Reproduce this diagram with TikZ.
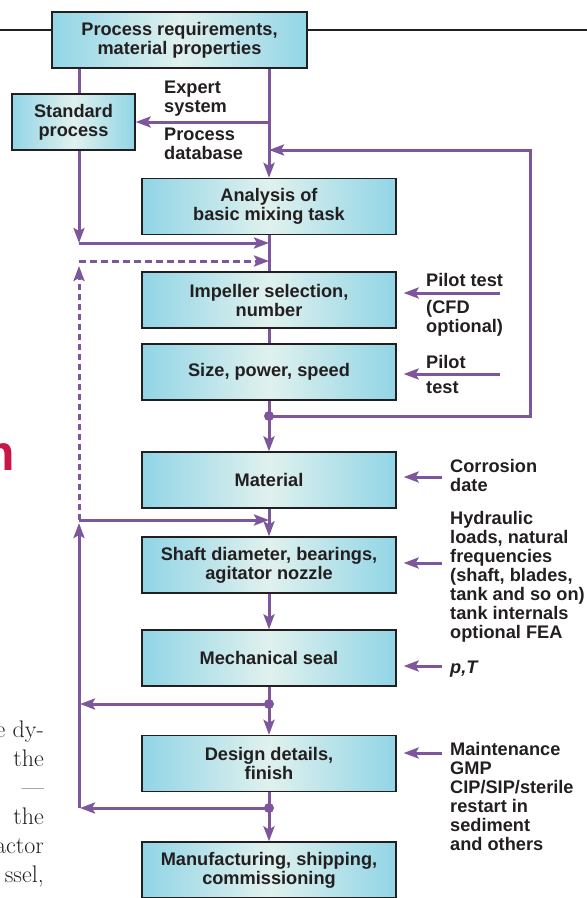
\documentclass[tikz,border=0pt]{standalone}
\usepackage{fontspec}
\usepackage{tikz}
\usetikzlibrary{arrows.meta, positioning}

\newfontfamily\chartfont{Liberation Sans}
\definecolor{boxcyan}{RGB}{145,213,230}
\definecolor{boxlight}{RGB}{224,241,238}
\definecolor{flowpurple}{RGB}{126,86,156}
\definecolor{headred}{RGB}{200,22,72}
\definecolor{inkgray}{RGB}{35,31,32}

\begin{document}
\begin{tikzpicture}[
    x=1pt, y=-1pt,
    stagebox/.style={draw=inkgray, line width=1.3pt, left color=boxcyan, right color=boxcyan, middle color=boxlight,
        minimum height=56pt, inner sep=0pt, align=center, text=inkgray, font=\chartfont\bfseries\fontsize{18.2}{19}\selectfont},
    note/.style={inner sep=0pt, align=left, text=inkgray, font=\chartfont\bfseries\fontsize{18.2}{19}\selectfont},
    bodytext/.style={inner sep=0pt, text=inkgray, font=\fontsize{24}{29}\selectfont},
    flowline/.style={draw=flowpurple, line width=3pt},
    flowarrow/.style={flowline, -{Stealth[length=15pt, width=11pt, inset=3pt]}},
    inarrow/.style={flowarrow, shorten >=7pt},
    pagerule/.style={draw=inkgray, line width=1.3pt}
]
\useasboundingbox (0,0) rectangle (587,898);

% Boxes
\node[stagebox, minimum width=255pt] (req) at (179.5,40) {Process requirements,\\material properties};
\node[stagebox, minimum width=123pt] (std) at (73.5,122) {Standard\\process};
\node[stagebox, minimum width=254pt] (analysis) at (269,206.5) {Analysis of\\basic mixing task};
\node[stagebox, minimum width=254pt] (impeller) at (269,300) {Impeller selection,\\number};
\node[stagebox, minimum width=254pt] (size) at (269,372) {Size, power, speed};
\node[stagebox, minimum width=254pt] (material) at (269,480) {Material};
\node[stagebox, minimum width=254pt] (shaft) at (269,565) {Shaft diameter, bearings,\\agitator nozzle};
\node[stagebox, minimum width=254pt] (seal) at (269,658) {Mechanical seal};
\node[stagebox, minimum width=254pt] (design) at (269,763.5) {Design details,\\finish};
\node[stagebox, minimum width=254pt] (manuf) at (269,870) {Manufacturing, shipping,\\commissioning};

% Junctions
\coordinate (jstd) at (79,243);
\coordinate (jdash) at (79,261);
\coordinate (jmat) at (79,520);
\coordinate (jbot) at (79,808);
\coordinate (dsize) at (269,416);
\coordinate (dseal) at (269,704);
\coordinate (ddesign) at (269,808);
\coordinate (fbcorner) at (530,150);

% Main flow
\draw[flowline] (req.south -| jstd) -- (std.north -| jstd);
\draw[flowarrow] (std.south -| jstd) -- (jstd);
\draw[flowarrow] (jstd) -- (jstd -| analysis.south);
\draw[flowarrow] (analysis.north |- std.east) -- (std.east);
\draw[flowarrow] (req.south -| analysis.north) -- (analysis.north);
\draw[flowline] (analysis.south) -- (impeller.north);
\draw[flowline] (impeller.south) -- (size.north);
\draw[flowline] (size.south) -- (dsize);
\draw[flowarrow] (dsize) -- (material.north);
\draw[flowarrow] (dsize) -| (fbcorner) -- (analysis.north |- fbcorner);
\draw[flowarrow, dash pattern=on 6pt off 4pt, shorten >=5pt] (jmat) -- (jdash);
\draw[flowarrow, dash pattern=on 7pt off 4pt] (jdash) -- (jdash -| analysis.south);
\draw[flowarrow] (jmat) -- (jmat -| material.south);
\draw[flowarrow] (material.south) -- (shaft.north);
\draw[flowarrow] (shaft.south) -- (seal.north);
\draw[flowline] (seal.south) -- (dseal);
\draw[flowarrow] (dseal) -- (design.north);
\draw[flowarrow, shorten >=1pt] (dseal) -- (dseal -| jbot);
\draw[flowline] (design.south) -- (ddesign);
\draw[flowarrow] (ddesign) -- (manuf.north);
\draw[flowarrow, shorten >=1pt] (ddesign) -- (jbot);
\draw[flowarrow, shorten >=3pt] (jbot) -- (jmat);
\fill[flowpurple] (dsize) circle (5pt) (dseal) circle (5pt) (ddesign) circle (5pt);

% Inputs from the right
\coordinate (inimp) at (500,293);
\coordinate (insize) at (500,374);
\coordinate (inmat) at (442,477);
\coordinate (inshaft) at (442,563);
\coordinate (inseal) at (442,666);
\coordinate (indesign) at (442,753);
\draw[inarrow] (inimp) -- (impeller.east |- inimp);
\draw[inarrow] (insize) -- (size.east |- insize);
\draw[inarrow] (inmat) -- (material.east |- inmat);
\draw[inarrow] (inshaft) -- (shaft.east |- inshaft);
\draw[inarrow] (inseal) -- (seal.east |- inseal);
\draw[inarrow] (indesign) -- (design.east |- indesign);

% Labels
\node[note, anchor=south west] (expert) at (164,116) {Expert\\system};
\node[note, anchor=north west] (database) at (164,128) {Process\\database};
\node[note, anchor=base west] (pilot1) at (426,286) {Pilot test};
\node[note, anchor=north west] (cfd) at (426,300) {(CFD\\optional)};
\node[note, anchor=base west] (pilot2) at (426,368) {Pilot};
\node[note, anchor=base west] (test2) at (426,393) {test};
\node[note, anchor=north west] (corrosion) at (450,459) {Corrosion\\date};
\node[note, anchor=north west] (hydraulic) at (450,511) {Hydraulic\\loads, natural\\frequencies\\(shaft, blades,\\tank and so on)\\tank internals\\optional FEA};
\node[note, anchor=north west] (pt) at (450,661) {\itshape p,T};
\node[note, anchor=north west] (maint) at (450,742) {Maintenance\\GMP\\CIP/SIP/sterile\\restart in\\sediment\\and others};

% Page around the chart
\coordinate (ruleL) at (0,30);
\coordinate (ruleR) at (587,30);
\draw[pagerule] (ruleL) -- (ruleL -| req.west);
\draw[pagerule] (req.east |- ruleR) -- (ruleR);
\node[anchor=base east, inner sep=0pt, text=headred, font=\chartfont\bfseries\fontsize{50}{50}\selectfont] (head) at (15,470) {m};
\node[bodytext, anchor=base east] (b1) at (44,737) {the dy-};
\node[bodytext, anchor=base east] (b2) at (44,766) {the};
\node[bodytext, anchor=base east] (b3) at (44,795) {---};
\node[bodytext, anchor=base east] (b4) at (44,824) {the};
\node[bodytext, anchor=base east] (b5) at (44,853) {actor};
\node[bodytext, anchor=base east] (b6) at (44,882) {ssel,};

\end{tikzpicture}
\end{document}
